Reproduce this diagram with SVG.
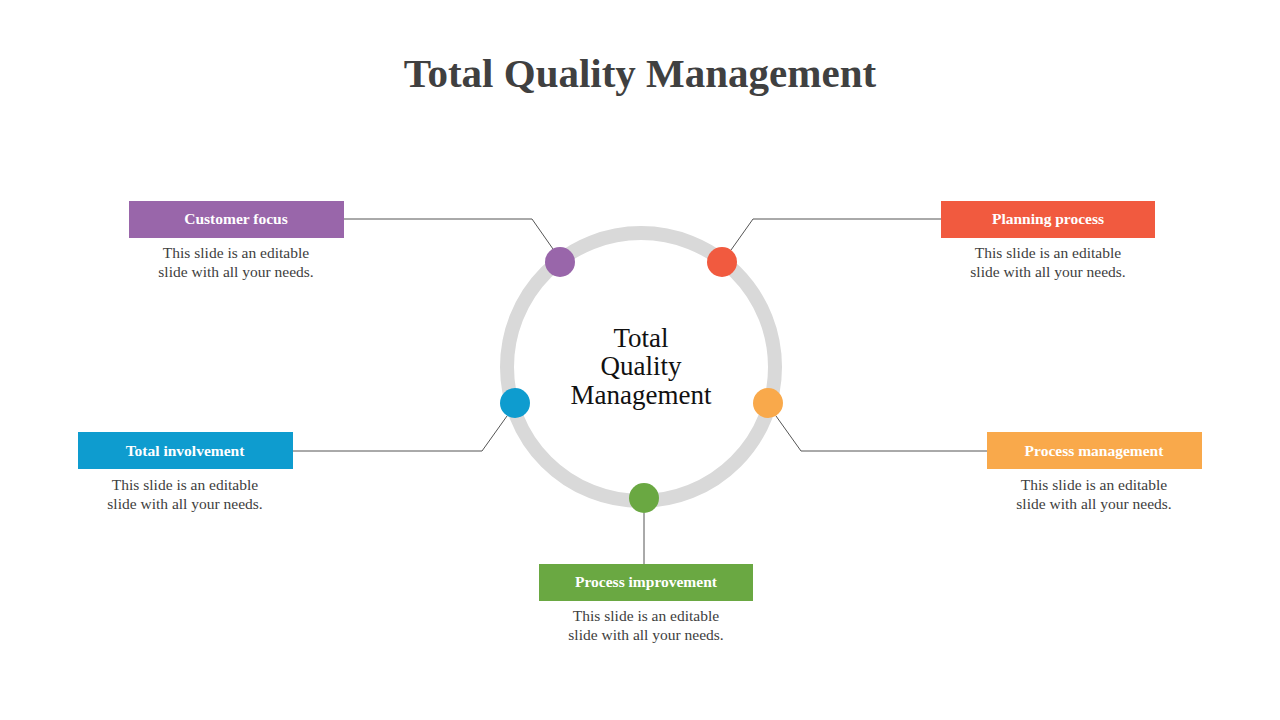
<svg xmlns="http://www.w3.org/2000/svg" width="1280" height="720" viewBox="0 0 1280 720">
<style>
.lbl{font-family:"Liberation Serif",serif;font-weight:bold;font-size:15.5px;fill:#fff;text-anchor:middle}
.desc{font-family:"Liberation Serif",serif;font-size:15.5px;fill:#404040;text-anchor:middle}
.ln{fill:none;stroke:#555;stroke-width:1}
</style>
<rect width="1280" height="720" fill="#fff"/>
<text x="640" y="87" font-family="Liberation Serif,serif" font-weight="bold" font-size="41" fill="#404040" text-anchor="middle">Total Quality Management</text>
<g id="ring">
<circle cx="641" cy="367" r="134" fill="none" stroke="#d9d9d9" stroke-width="14"/>
<text font-family="Liberation Serif,serif" font-size="27" fill="#111" text-anchor="middle"><tspan x="641" y="347">Total</tspan><tspan x="641" y="375">Quality</tspan><tspan x="641" y="404">Management</tspan></text>
</g>
<g id="connectors">
<polyline class="ln" points="344,219 532,219 553,249"/>
<polyline class="ln" points="731,250 753,219 941,219"/>
<polyline class="ln" points="507,416 482,451 293,451"/>
<polyline class="ln" points="776,416 801,451 987,451"/>
<polyline class="ln" points="644,513 644,564"/>
</g>
<g id="customer-focus">
<circle cx="560" cy="262" r="15" fill="#9966aa"/>
<rect x="129" y="201" width="215" height="37" fill="#9966aa"/>
<text class="lbl" x="236" y="224">Customer focus</text>
<text class="desc"><tspan x="236" y="258">This slide is an editable</tspan><tspan x="236" y="277">slide with all your needs.</tspan></text>
</g>
<g id="planning-process">
<circle cx="722" cy="262" r="15" fill="#f15a3f"/>
<rect x="941" y="201" width="214" height="37" fill="#f15a3f"/>
<text class="lbl" x="1048" y="224">Planning process</text>
<text class="desc"><tspan x="1048" y="258">This slide is an editable</tspan><tspan x="1048" y="277">slide with all your needs.</tspan></text>
</g>
<g id="total-involvement">
<circle cx="515" cy="403" r="15" fill="#0e9ccf"/>
<rect x="78" y="432" width="215" height="37" fill="#0e9ccf"/>
<text class="lbl" x="185" y="456">Total involvement</text>
<text class="desc"><tspan x="185" y="490">This slide is an editable</tspan><tspan x="185" y="509">slide with all your needs.</tspan></text>
</g>
<g id="process-management">
<circle cx="768" cy="403" r="15" fill="#f9a94b"/>
<rect x="987" y="432" width="215" height="37" fill="#f9a94b"/>
<text class="lbl" x="1094" y="456">Process management</text>
<text class="desc"><tspan x="1094" y="490">This slide is an editable</tspan><tspan x="1094" y="509">slide with all your needs.</tspan></text>
</g>
<g id="process-improvement">
<circle cx="644" cy="498" r="15" fill="#6aa842"/>
<rect x="539" y="564" width="214" height="37" fill="#6aa842"/>
<text class="lbl" x="646" y="587">Process improvement</text>
<text class="desc"><tspan x="646" y="621">This slide is an editable</tspan><tspan x="646" y="640">slide with all your needs.</tspan></text>
</g>
</svg>
